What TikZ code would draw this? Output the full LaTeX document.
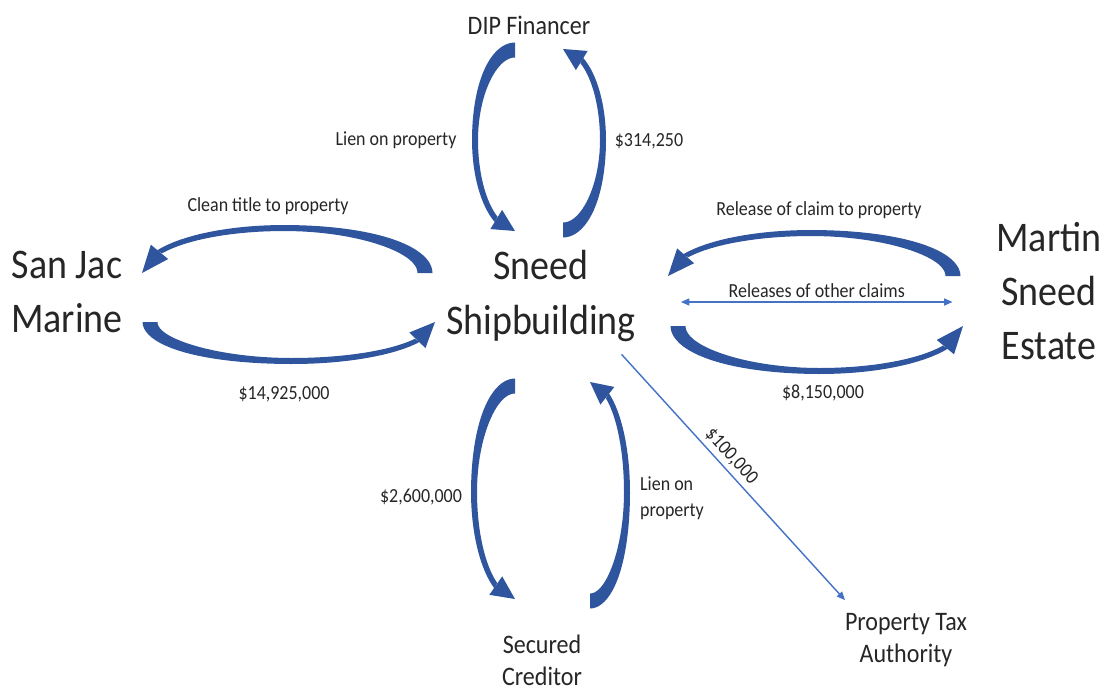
\documentclass[tikz,border=0pt]{standalone}
\usepackage{fontspec}
\setmainfont{Carlito}[FakeStretch=0.9]
\usepackage{tikz}
\usetikzlibrary{arrows.meta,calc}
\definecolor{arcblue}{HTML}{2E559D}
\definecolor{linkblue}{HTML}{4472C4}
\definecolor{labeltext}{HTML}{262626}

% curved flow arrow: centre, rotation, bulge, half length
\newcommand{\flowarc}[4]{%
  \begin{scope}[shift={#1}, rotate=#2]
    \fill[arcblue] plot[domain=270:118, samples=40, variable=\t]
        ({(#3+hw(\t))*cos(\t)}, {(#4+hw(\t))*sin(\t)})
      -- plot[domain=118:270, samples=40, variable=\t]
        ({(#3-hw(\t))*cos(\t)}, {(#4-hw(\t))*sin(\t)}) -- cycle;
    \coordinate (arcend) at ({#3*cos(118)}, {#4*sin(118)});
    \coordinate (arctip) at (0, #4+1);
    \fill[arcblue] ($(arcend)!8pt!90:(arctip)$) -- (arctip)
      -- ($(arcend)!8pt!-90:(arctip)$) -- cycle;
  \end{scope}}

\begin{document}
\begin{tikzpicture}[x=0.025cm, y=-0.025cm,
  declare function={hw(\t)=3+4.5*max(0,-sin(\t))^2;},
  bigtxt/.style={align=center, text=labeltext, font=\fontsize{30}{38.5}\selectfont},
  midtxt/.style={align=center, text=labeltext, font=\fontsize{19}{23}\selectfont},
  smalltxt/.style={text=labeltext, font=\fontsize{14.2}{18.5}\selectfont},
  thinarr/.style={draw=linkblue, line width=1pt, -{Triangle[length=6pt,width=5pt]}}
]
  \useasboundingbox (0,0) rectangle (1103,693);

  \node[bigtxt] (sneed)  at (541,296) {Sneed\\Shipbuilding};
  \node[bigtxt] (sanjac) at (67,292)  {San Jac\\Marine};
  \node[bigtxt] (martin) at (1049,291) {Martin\\Sneed\\Estate};
  \node[midtxt] (dip)     at (529,25)  {DIP Financer};
  \node[midtxt] (secured) at (542,660) {Secured\\Creditor};
  \node[midtxt] (ptax)    at (906,640) {Property Tax\\Authority};

  % DIP Financer
  \flowarc{(515,140)}{0}{40}{90}
  \flowarc{(563,140)}{180}{40}{90}
  \node[smalltxt] (dipl) at (396,140) {Lien on property};
  \node[smalltxt] (dipr) at (649,141) {\$314,250};

  % San Jac Marine
  \flowarc{(284,273)}{-90}{45}{141}
  \flowarc{(292,322)}{90}{39}{142}
  \node[smalltxt] (sjt) at (268,206) {Clean title to property};
  \node[smalltxt] (sjb) at (284,394) {\$14,925,000};

  % Martin Sneed Estate
  \flowarc{(811,276)}{-90}{43}{142}
  \flowarc{(820,326)}{90}{45}{142}
  \node[smalltxt] (mst) at (819,210) {Release of claim to property};
  \node[smalltxt] (msb) at (823,393) {\$8,150,000};
  \draw[thinarr, {Triangle[length=6pt,width=5pt]}-{Triangle[length=6pt,width=5pt]}]
    ($(sneed.east)+(40,6)$) -- ($(martin.west)+(-39,11)$)
    node[midway, above=-1pt, smalltxt] {Releases of other claims};

  % Secured Creditor
  \flowarc{(515,492)}{0}{41}{106}
  \flowarc{(590,492)}{180}{37}{109}
  \node[smalltxt] (scl) at (421,497) {\$2,600,000};
  \node[smalltxt, align=left] (scr) at (672,498) {Lien on\\property};

  % Property tax
  \draw[thinarr] ($(sneed.-32)+(0,8)$) -- ($(ptax.north west)+(5,-8)$)
    node[pos=0.45, sloped, above=2pt, inner sep=1pt, smalltxt] {\$100,000};
\end{tikzpicture}
\end{document}
